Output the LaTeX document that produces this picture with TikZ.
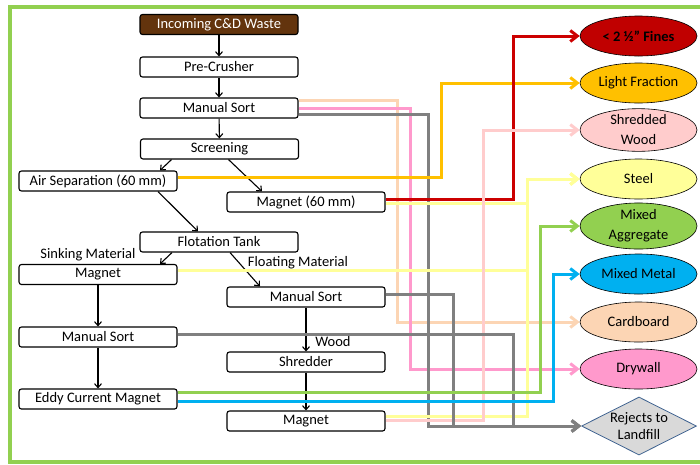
\documentclass[tikz,border=0pt]{standalone}
\usepackage{fontspec}
\setmainfont{Carlito}
\usetikzlibrary{arrows.meta, shapes.geometric, positioning}

\definecolor{frameg}{RGB}{146,208,80}
\definecolor{soil}{RGB}{99,52,13}
\definecolor{finesc}{RGB}{192,0,0}
\definecolor{finesln}{RGB}{204,0,0}
\definecolor{lightc}{RGB}{255,192,0}
\definecolor{woodc}{RGB}{255,204,204}
\definecolor{steelc}{RGB}{255,255,153}
\definecolor{aggrc}{RGB}{146,208,80}
\definecolor{metalc}{RGB}{0,176,240}
\definecolor{cardc}{RGB}{252,213,180}
\definecolor{dryc}{RGB}{255,153,204}
\definecolor{rejc}{RGB}{217,217,217}
\definecolor{rejln}{RGB}{128,128,128}
\definecolor{rejbd}{RGB}{65,100,145}

\begin{document}
\begin{tikzpicture}[x=1pt, y=-1pt,
  stage/.style={draw, fill=white, rounded corners=2.5pt, line width=1.1pt, minimum width=158pt, minimum height=20pt, inner sep=0pt, font=\fontsize{14.5}{15}\selectfont},
  prod/.style={draw, ellipse, line width=0.6pt, minimum width=117pt, minimum height=40pt, inner sep=0pt, align=center, font=\fontsize{14.5}{20}\selectfont},
  lbl/.style={inner sep=0pt, font=\fontsize{14.5}{15}\selectfont},
  flow/.style={line width=1.1pt, -{Straight Barb[length=4pt,width=7pt]}},
  stream/.style={line width=3pt, -{Straight Barb[length=7pt,width=11pt]}}]
\useasboundingbox (0,0) rectangle (700,464);
\clip (0,0) rectangle (700,464);
\draw[frameg, line width=3.5pt] (10,7) rectangle (720,462);

% process stages
\node[stage, fill=soil, text=white] (waste) at (219,24.5) {Incoming C\&D Waste};
\node[stage] (crush) at (219,67) {Pre-Crusher};
\node[stage] (sort1) at (219,108) {Manual Sort};
\node[stage] (screen) at (219.5,149) {Screening};
\node[stage] (air) at (98,181) {Air Separation (60 mm)};
\node[stage] (mag60) at (306,202) {Magnet (60 mm)};
\node[stage] (float) at (219,242) {Flotation Tank};
\node[stage] (magL) at (98,274.5) {Magnet};
\node[stage] (sortR) at (306,297) {Manual Sort};
\node[stage] (sortL) at (98,337) {Manual Sort};
\node[stage] (shred) at (306,362) {Shredder};
\node[stage] (eddy) at (98,399) {Eddy Current Magnet};
\node[stage] (magB) at (306,421) {Magnet};

\node[lbl] (sinklbl) at (88,255) {Sinking Material};
\node[lbl] (floatlbl) at (298,263) {Floating Material};
\node[lbl] (woodlbl) at (333,342) {Wood};

% end products
\node[prod, fill=finesc] (fines) at (638.5,36) {\bfseries < 2 ½” Fines};
\node[prod, fill=lightc] (light) at (638.5,83) {Light Fraction};
\node[prod, fill=woodc] (wood) at (638.5,130) {Shredded\\Wood};
\node[prod, fill=steelc] (steel) at (638.5,179) {Steel};
\node[prod, fill=aggrc] (aggr) at (638.5,226) {Mixed\\Aggregate};
\node[prod, fill=metalc] (metal) at (638.5,274) {Mixed Metal};
\node[prod, fill=cardc] (card) at (638.5,322) {Cardboard};
\node[prod, fill=dryc] (dry) at (638.5,369) {Drywall};
\node[draw=rejbd, fill=rejc, diamond, aspect=2, line width=0.8pt, minimum width=115pt, minimum height=58pt, inner sep=0pt, align=center, font=\fontsize{14.5}{17}\selectfont] (rej) at (639,426) {Rejects to\\Landfill};

% main line
\draw[flow] (waste) -- (crush);
\draw[flow] (crush) -- (sort1);
\draw[flow] (sort1) -- (screen);
\draw[flow] ([xshift=-48pt]screen.south) -- ([xshift=62pt]air.north);
\draw[flow] ([xshift=9pt]screen.south) -- ([xshift=-44pt]mag60.north);
\draw[flow] ([xshift=60pt]air.south) -- ([xshift=-21pt]float.north);
\draw[flow] ([xshift=-47pt]float.south) -- ([xshift=62pt]magL.north);
\draw[flow] ([xshift=11pt]float.south) -- ([xshift=-46pt]sortR.north);
\draw[flow] (magL) -- (sortL);
\draw[flow] (sortL) -- (eddy);
\draw[flow] (sortR) -- (shred);
\draw[flow] (shred) -- (magB);

% risers
\coordinate (xcard) at (397,0);
\coordinate (xdry) at (410,0);
\coordinate (xrejA) at (428,0);
\coordinate (xlight) at (441,0);
\coordinate (xrejB) at (453,0);
\coordinate (xwood) at (483,0);
\coordinate (xfines) at (513,0);
\coordinate (xsteel) at (527,0);
\coordinate (xaggr) at (540,0);
\coordinate (xmetal) at (553,0);

% product streams
\draw[stream, cardc] ([yshift=8pt]sort1.east) -| (xcard |- card.west) -- (card.west);
\draw[stream, dryc] (sort1.east) -| (xdry |- dry.west) -- (dry.west);
\draw[stream, rejln] ([yshift=-6pt]sort1.east) -| (xrejA |- rej.west) -- (rej.west);
\draw[stream, lightc] ([yshift=4pt]air.east) -| (xlight |- light.west) -- (light.west);
\draw[stream, finesln] ([yshift=3pt]mag60.east) -| (xfines |- fines.west) -- (fines.west);
\draw[stream, steelc] ([yshift=-1pt]mag60.east) -| (xsteel |- steel.west) -- (steel.west);
\draw[stream, steelc] ([yshift=4.5pt]magL.east) -| (xsteel |- steel.west) -- (steel.west);
\draw[stream, steelc] ([yshift=5pt]magB.east) -| (xsteel |- steel.west) -- (steel.west);
\draw[stream, woodc] ([yshift=1pt]magB.east) -| (xwood |- wood.west) -- (wood.west);
\draw[stream, rejln] ([yshift=3pt]sortR.east) -| (xrejB |- rej.west) -- (rej.west);
\draw[stream, rejln] ([yshift=3pt]sortL.east) -| (xfines |- rej.west) -- (rej.west);
\draw[stream, aggrc] ([yshift=7pt]eddy.east) -| (xaggr |- aggr.west) -- (aggr.west);
\draw[stream, metalc] ([yshift=-2pt]eddy.east) -| (xmetal |- metal.west) -- (metal.west);
\end{tikzpicture}
\end{document}
